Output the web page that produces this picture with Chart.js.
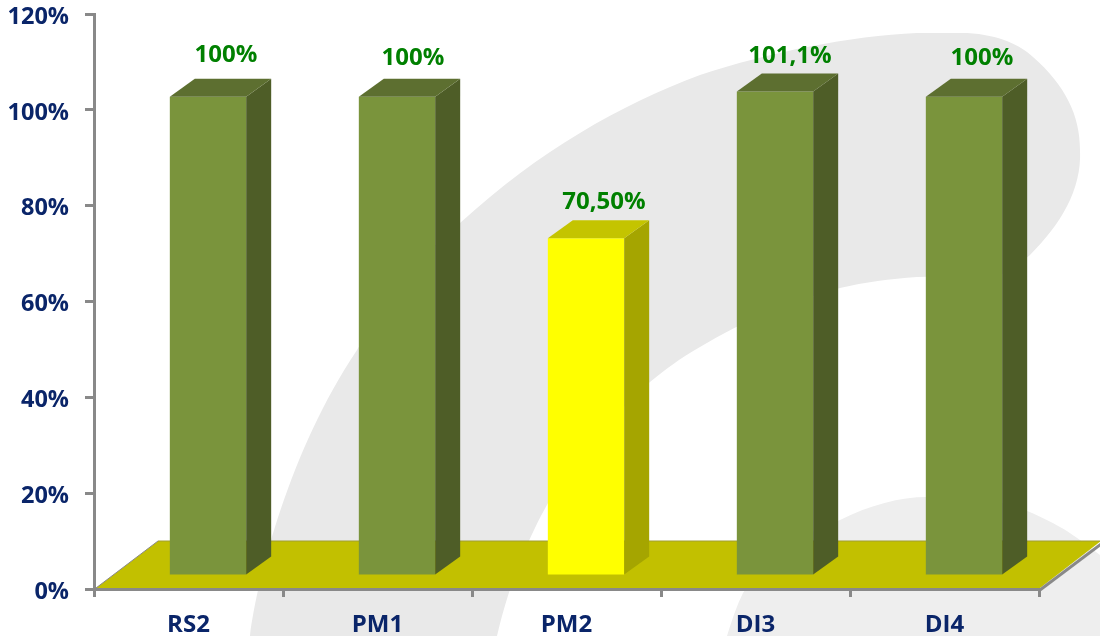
<!DOCTYPE html>
<html>
<head>
<meta charset="utf-8">
<style>
    html, body { margin: 0; background: #fff; }
    canvas { display: block; }
</style>
<script src="https://cdn.jsdelivr.net/npm/chart.js@4"></script>
</head>
<body>
<canvas id="barChart" width="1100" height="636"></canvas>
<script>
const categories = ["RS2", "PM1", "PM2", "DI3", "DI4"];
const values = [100, 100, 70.5, 101.1, 100];
const valueLabels = ["100%", "100%", "70,50%", "101,1%", "100%"];

const frontColors = ["#7a943c", "#7a943c", "#ffff00", "#7a943c", "#7a943c"];
const sideColors = ["#4e5d27", "#4e5d27", "#a5a500", "#4e5d27", "#4e5d27"];
const topColors = ["#5d6f30", "#5d6f30", "#c4c400", "#5d6f30", "#5d6f30"];

// the labels are not placed quite evenly in the original
const labelNudgeX = [2, 0, 2, -1, 2];
const labelNudgeY = [-3, 0, 3, 4, 0];

const navy = "#0a2569";
const axisGrey = "#898989";

// bars stand in the middle of the floor, not on the axis line
const barShiftX = 19.5;
const barShiftY = -13;
const depthX = 25;
const depthY = 18;

// grey swoosh behind the chart
const swooshTop = new Path2D(
    "M250 636 C258 575 290 450 357 350 C390 295 420 255 460 223 C540 150 620 105 700 75 " +
    "C770 52 850 36 917 33 L967 33 C1000 35 1020 45 1033 57 C1065 85 1080 115 1080 150 " +
    "C1082 190 1060 225 1030 255 C1015 268 1005 273 1000 275 L917 277 C890 279 865 282 840 288 " +
    "C790 302 745 320 700 347 C680 358 665 370 650 382 C610 418 575 460 548 503 " +
    "C530 535 510 580 497 636 Z"
);
const swooshBottom = new Path2D(
    "M727 636 C732 620 737 605 743 593 C770 555 805 532 840 520 C870 505 900 497 927 497 " +
    "C955 496 980 498 1000 502 C1030 510 1060 525 1080 540 L1100 555 L1100 636 Z"
);

const backdrop = {
    id: "backdrop",
    beforeDraw(chart) {
        const ctx = chart.ctx;
        ctx.save();
        ctx.fillStyle = "#e9e9e9";
        ctx.fill(swooshTop);
        ctx.fillStyle = "#eeeeee";
        ctx.fill(swooshBottom);
        ctx.restore();
    },
};

const floor = {
    id: "floor",
    beforeDatasetsDraw(chart) {
        const ctx = chart.ctx;
        const area = chart.chartArea;
        const y0 = area.bottom - 1;
        const left = area.left + 2;
        const right = area.right + 1;
        ctx.save();
        ctx.beginPath();
        ctx.moveTo(left, y0);
        ctx.lineTo(left + 62, y0 - 47);
        ctx.lineTo(right + 61, y0 - 47);
        ctx.lineTo(right, y0);
        ctx.closePath();
        ctx.fillStyle = "#c2c000";
        ctx.fill();

        ctx.lineWidth = 1;
        ctx.strokeStyle = "#a09e30";
        ctx.beginPath();
        ctx.moveTo(left + 62, y0 - 47);
        ctx.lineTo(right + 61, y0 - 47);
        ctx.stroke();

        ctx.strokeStyle = axisGrey;
        ctx.beginPath();
        ctx.moveTo(left, y0);
        ctx.lineTo(left + 62, y0 - 47);
        ctx.stroke();
        ctx.lineWidth = 3;
        ctx.beginPath();
        ctx.moveTo(right, y0 + 2);
        ctx.lineTo(right + 61, y0 - 44);
        ctx.stroke();
        ctx.restore();

        // move the flat bars onto the floor, restored again after the datasets
        ctx.save();
        ctx.translate(barShiftX, barShiftY);
    },
    afterDatasetsDraw(chart) {
        const ctx = chart.ctx;
        chart.getDatasetMeta(0).data.forEach((bar, i) => {
            const right = bar.x + bar.width / 2;
            const left = bar.x - bar.width / 2;
            ctx.fillStyle = sideColors[i];
            ctx.beginPath();
            ctx.moveTo(right, bar.y);
            ctx.lineTo(right + depthX, bar.y - depthY);
            ctx.lineTo(right + depthX, bar.base - depthY);
            ctx.lineTo(right, bar.base);
            ctx.closePath();
            ctx.fill();

            ctx.fillStyle = topColors[i];
            ctx.beginPath();
            ctx.moveTo(left, bar.y);
            ctx.lineTo(left + depthX, bar.y - depthY);
            ctx.lineTo(right + depthX, bar.y - depthY);
            ctx.lineTo(right, bar.y);
            ctx.closePath();
            ctx.fill();
        });
        ctx.restore();

        ctx.save();
        ctx.font = "bold 24px 'Open Sans'";
        ctx.fillStyle = "#008000";
        ctx.textAlign = "center";
        ctx.textBaseline = "middle";
        chart.getDatasetMeta(0).data.forEach((bar, i) => {
            ctx.fillText(
                valueLabels[i],
                bar.x + barShiftX + 16 + labelNudgeX[i],
                bar.y + barShiftY - 39 + labelNudgeY[i]
            );
        });
        ctx.restore();
    },
};

const ctx = document.getElementById("barChart").getContext("2d");
const myChart = new Chart(ctx, {
    type: "bar",
    data: {
        labels: categories,
        datasets: [
            {
                data: values,
                backgroundColor: frontColors,
                borderWidth: 0,
                barPercentage: 0.404,
                categoryPercentage: 1,
            },
        ],
    },
    options: {
        responsive: false,
        animation: false,
        layout: { padding: { top: 14, right: 61 } },
        plugins: {
            legend: { display: false },
            tooltip: { enabled: false },
        },
        scales: {
            x: {
                afterFit: (axis) => { axis.height = 47; },
                border: { color: axisGrey, width: 3 },
                grid: {
                    offset: true,
                    drawOnChartArea: false,
                    color: axisGrey,
                    lineWidth: 3,
                    tickLength: 8,
                },
                ticks: {
                    padding: 14,
                    maxRotation: 0,
                    color: navy,
                    font: { family: "'Open Sans'", size: 24, weight: "bold" },
                },
            },
            y: {
                min: 0,
                max: 120,
                afterFit: (axis) => {
                    axis.width = 94;
                    axis.paddingTop = 0;
                    axis.paddingBottom = 0;
                },
                border: { color: axisGrey, width: 3 },
                grid: {
                    drawOnChartArea: false,
                    color: axisGrey,
                    lineWidth: 3,
                    tickLength: 9,
                },
                ticks: {
                    stepSize: 20,
                    padding: 16,
                    labelOffset: 3,
                    color: navy,
                    font: { family: "'Open Sans'", size: 23.5, weight: "bold" },
                    callback: (value) => value + "%",
                },
            },
        },
    },
    plugins: [backdrop, floor],
});
</script>
</body>
</html>
